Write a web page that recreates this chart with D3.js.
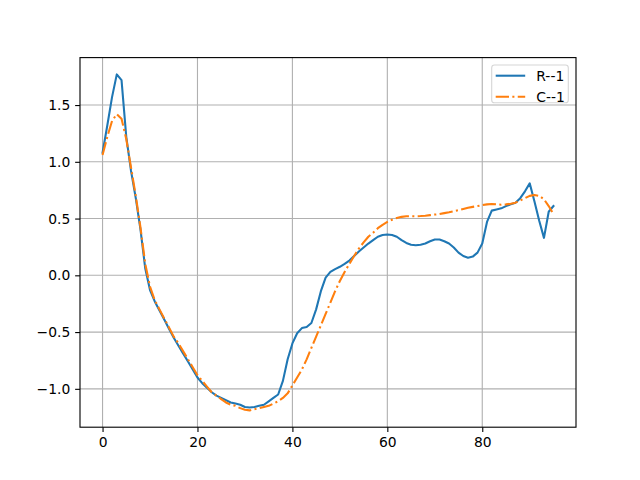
<!DOCTYPE html>
<html>
<head>
<meta charset="utf-8">
<script src="https://cdn.jsdelivr.net/npm/d3@7"></script>
<style>
  html, body { margin: 0; padding: 0; background: #fff; }
  svg { display: block; }
  text { font-family: "DejaVu Sans", sans-serif; }
</style>
</head>
<body>
<svg id="chart" width="640" height="480"></svg>
<script>
const seriesNames = ["R--1", "C--1"];
const seriesColors = ["#1f77b4", "#ff7f0e"];
const rValues = [
  1.08, 1.32, 1.57, 1.77, 1.72, 1.22, 0.92, 0.68, 0.40, 0.06,
  -0.13, -0.23, -0.31, -0.39, -0.47, -0.55, -0.62, -0.69, -0.76, -0.83,
  -0.90, -0.95, -0.99, -1.03, -1.06, -1.08, -1.10, -1.12, -1.13, -1.14,
  -1.16, -1.165, -1.16, -1.15, -1.14, -1.11, -1.08, -1.05, -0.93, -0.74,
  -0.60, -0.51, -0.465, -0.455, -0.42, -0.30, -0.14, -0.02, 0.03, 0.055,
  0.075, 0.10, 0.13, 0.17, 0.21, 0.245, 0.28, 0.31, 0.34, 0.355,
  0.36, 0.355, 0.34, 0.31, 0.285, 0.27, 0.265, 0.27, 0.28, 0.30,
  0.315, 0.315, 0.30, 0.28, 0.245, 0.20, 0.17, 0.155, 0.165, 0.20,
  0.28, 0.47, 0.57, 0.58, 0.59, 0.61, 0.625, 0.64, 0.68, 0.74,
  0.81, 0.65, 0.48, 0.33, 0.56, 0.61
];
const cValues = [
  1.06, 1.22, 1.36, 1.42, 1.38, 1.20, 0.95, 0.70, 0.42, 0.10,
  -0.10, -0.22, -0.30, -0.38, -0.46, -0.54, -0.60, -0.67, -0.74, -0.81,
  -0.88, -0.93, -0.98, -1.03, -1.06, -1.09, -1.12, -1.14, -1.15, -1.17,
  -1.185, -1.19, -1.18, -1.17, -1.16, -1.15, -1.13, -1.11, -1.08, -1.04,
  -0.97, -0.90, -0.83, -0.74, -0.64, -0.54, -0.44, -0.34, -0.24, -0.14,
  -0.05, 0.03, 0.10, 0.17, 0.235, 0.29, 0.34, 0.375, 0.415, 0.445,
  0.47, 0.49, 0.505, 0.515, 0.52, 0.52, 0.52, 0.522, 0.525, 0.53,
  0.535, 0.54, 0.548, 0.556, 0.565, 0.575, 0.585, 0.595, 0.603, 0.61,
  0.618, 0.625, 0.628, 0.625, 0.622, 0.625, 0.63, 0.64, 0.66, 0.68,
  0.70, 0.708, 0.70, 0.67, 0.61, 0.54
];
const xTicks = [0, 20, 40, 60, 80];
const yTicks = [-1.0, -0.5, 0.0, 0.5, 1.0, 1.5];

(function () {
const series = [rValues, cValues];
const svg = d3.select("#chart");
const pL = 80, pR = 576, pT = 57.6, pB = 427.2;

const n = rValues.length;
const xMin = 0, xMax = n - 1;
const xPad = (xMax - xMin) * 0.05;
const allY = rValues.concat(cValues);
const yMin = d3.min(allY), yMax = d3.max(allY);
const yPad = (yMax - yMin) * 0.05;

const x = d3.scaleLinear().domain([xMin - xPad, xMax + xPad]).range([pL, pR]);
const y = d3.scaleLinear().domain([yMin - yPad, yMax + yPad]).range([pB, pT]);

const fontPx = 13.89;
const tickLen = 4.86;
const gridColor = "#b0b0b0";
const gridW = 1.11;

// grid
const g = svg.append("g");
g.selectAll(".vg").data(xTicks).enter().append("line")
  .attr("x1", d => x(d)).attr("x2", d => x(d))
  .attr("y1", pT).attr("y2", pB)
  .attr("stroke", gridColor).attr("stroke-width", gridW);
g.selectAll(".hg").data(yTicks).enter().append("line")
  .attr("x1", pL).attr("x2", pR)
  .attr("y1", d => y(d)).attr("y2", d => y(d))
  .attr("stroke", gridColor).attr("stroke-width", gridW);

// lines
const line = d3.line().x((d, i) => x(i)).y(d => y(d));
svg.append("clipPath").attr("id", "clip").append("rect")
  .attr("x", pL).attr("y", pT).attr("width", pR - pL).attr("height", pB - pT);
const dashes = [null, "13.3,3.33,2.08,3.33"];
series.forEach((s, k) => {
  svg.append("path").datum(s)
    .attr("d", line)
    .attr("fill", "none")
    .attr("stroke", seriesColors[k])
    .attr("stroke-width", 2.08)
    .attr("stroke-linejoin", "round")
    .attr("stroke-linecap", k === 0 ? "square" : "butt")
    .attr("stroke-dasharray", dashes[k])
    .attr("clip-path", "url(#clip)");
});

// axes using d3 axis
const xAxis = d3.axisBottom(x).tickValues(xTicks).tickFormat(d3.format("d"))
  .tickSizeInner(tickLen).tickSizeOuter(0).tickPadding(4.86);
const yAxis = d3.axisLeft(y).tickValues(yTicks).tickFormat(d3.format(".1f"))
  .tickSizeInner(tickLen).tickSizeOuter(0).tickPadding(4.86);

const gx = svg.append("g").attr("transform", `translate(0,${pB})`).call(xAxis);
const gy = svg.append("g").attr("transform", `translate(${pL},0)`).call(yAxis);
[gx, gy].forEach(ax => {
  ax.select(".domain").remove();
  ax.selectAll(".tick line").attr("stroke", "#000").attr("stroke-width", 1.11);
  ax.selectAll(".tick text")
    .attr("fill", "#000")
    .style("font-family", "'DejaVu Sans', sans-serif")
    .style("font-size", fontPx + "px");
});
gy.selectAll(".tick text").text(d => d3.format(".1f")(d).replace("-", "\u2212"));

// frame
svg.append("rect").attr("x", pL).attr("y", pT)
  .attr("width", pR - pL).attr("height", pB - pT)
  .attr("fill", "none").attr("stroke", "#000").attr("stroke-width", 1.11);

// legend
const lg = svg.append("g");
const lx = 491.7, ly = 65, lw = 76.6, lh = 37.8;
lg.append("rect").attr("x", lx).attr("y", ly).attr("width", lw).attr("height", lh)
  .attr("rx", 2.8).attr("ry", 2.8)
  .attr("fill", "rgba(255,255,255,0.8)")
  .attr("stroke", "#d6d6d6").attr("stroke-width", 1.11);
const rowY = [75.7, 96.7];
seriesNames.forEach((name, k) => {
  lg.append("line")
    .attr("x1", 495.7).attr("x2", 525.2)
    .attr("y1", rowY[k]).attr("y2", rowY[k])
    .attr("stroke", seriesColors[k]).attr("stroke-width", 2.08)
    .attr("stroke-dasharray", dashes[k]);
  lg.append("text")
    .attr("x", 536.3).attr("y", rowY[k])
    .attr("dy", "0.36em")
    .attr("fill", "#000")
    .style("font-size", fontPx + "px")
    .text(name);
});
})();
</script>
</body>
</html>
